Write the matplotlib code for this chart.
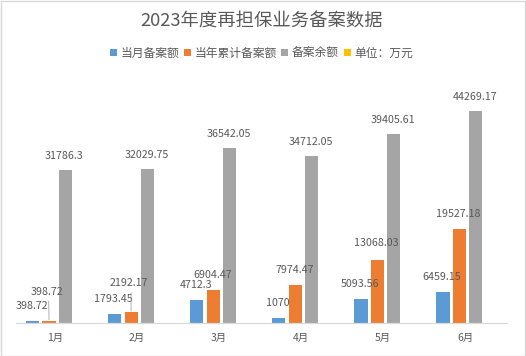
import numpy as np
import matplotlib
matplotlib.use("Agg")
import matplotlib.pyplot as plt
from matplotlib.patches import Patch, Rectangle

plt.rcParams['font.family'] = ['Noto Sans CJK SC', 'DejaVu Sans']

months = ['1月', '2月', '3月', '4月', '5月', '6月']
monthly = [398.72, 1793.45, 4712.3, 1070, 5093.56, 6459.15]
cumulative = [398.72, 2192.17, 6904.47, 7974.47, 13068.03, 19527.18]
balance = [31786.3, 32029.75, 36542.05, 34712.05, 39405.61, 44269.17]
series_names = ['当月备案额', '当年累计备案额', '备案余额', '单位：万元']

colors = ['#5B9BD5', '#ED7D31', '#A5A5A5', '#FFC000']
text_color = '#595959'

W, H = 526, 356
fig = plt.figure(figsize=(W / 100, H / 100), dpi=100)
ax = fig.add_axes([16 / W, 33 / H, 491 / W, 240 / H])

x = np.arange(len(months))
width = 0.16
offsets = [-0.2, 0.0, 0.2]
# label lift in pixels above bar top; two orange labels are pushed up with leader lines
lifts = [[15] * 6, [29, 29, 15, 15, 17, 15], [14] * 6]
leaders = [[False] * 6, [True, True, False, False, False, False], [False] * 6]

for k, vals in enumerate([monthly, cumulative, balance]):
    bars = ax.bar(x + offsets[k], vals, width, color=colors[k])
    for j, b in enumerate(bars):
        cx = b.get_x() + b.get_width() / 2
        top = b.get_height()
        if leaders[k][j]:
            ax.annotate(str(vals[j]), xy=(cx, top), xytext=(-2, lifts[k][j]),
                        textcoords='offset pixels', ha='center', va='center',
                        fontsize=7.7, color=text_color,
                        arrowprops=dict(arrowstyle='-', color='#A6A6A6', lw=0.6,
                                        shrinkA=1, shrinkB=1, relpos=(0.55, 0)))
        else:
            ax.annotate(str(vals[j]), xy=(cx, top), xytext=(-1, lifts[k][j]),
                        textcoords='offset pixels', ha='center', va='center',
                        fontsize=7.7, color=text_color)

ax.set_xlim(-0.402, 5.579)
ax.set_ylim(0, 50000)
ax.set_xticks(x + 0.07)
ax.set_xticklabels(months, fontsize=7.5, color=text_color)
ax.tick_params(axis='x', length=0, pad=7)
ax.set_yticks([])
for s in ['top', 'right', 'left']:
    ax.spines[s].set_visible(False)
ax.spines['bottom'].set_color('#D9D9D9')
ax.spines['bottom'].set_linewidth(0.9)

fig.text(0.497, 1 - 22 / H, '2023年度再担保业务备案数据', ha='center', va='center',
         fontsize=13.2, color=text_color)

handles = [Patch(facecolor=c, edgecolor='none') for c in colors]
fig.legend(handles, series_names, loc='center', bbox_to_anchor=(0.497, 1 - 53 / H),
           ncol=4, frameon=False, fontsize=8.5, handlelength=0.6, handleheight=0.6,
           handletextpad=0.3, columnspacing=0.4, labelcolor=text_color)

fig.patches.append(Rectangle((0.5 / W, 0.5 / H), 1 - 1.5 / W, 1 - 1.5 / H,
                             transform=fig.transFigure, fill=False,
                             edgecolor='#D9D9D9', lw=1))

fig.savefig('out.png', dpi=100)
